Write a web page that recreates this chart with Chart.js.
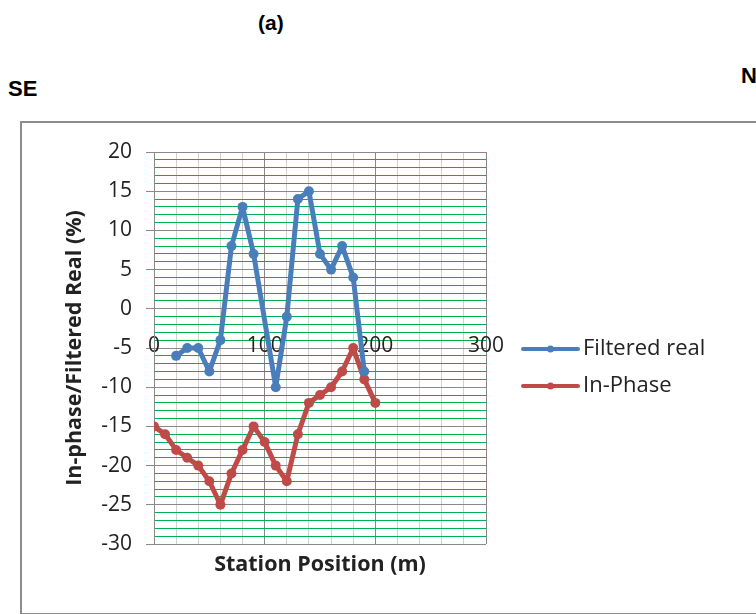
<!DOCTYPE html>
<html>
<head>
<meta charset="utf-8">
<script src="https://cdn.jsdelivr.net/npm/chart.js@4.4.1/dist/chart.umd.min.js"></script>
<style>
  html, body { margin: 0; padding: 0; background: #fff; width: 756px; height: 614px; overflow: hidden; }
  #wrap { position: relative; width: 756px; height: 614px; }
  #frame { position: absolute; left: 20px; top: 121px; width: 760px; height: 490px; border: 2px solid #8c8c8c; }
  #c { position: absolute; left: 0; top: 0; }
  .lbl { position: absolute; font-family: "Liberation Sans", Arial, sans-serif; font-weight: bold; color: #000; line-height: 1; }
</style>
</head>
<body>
<div id="wrap">
  <div id="frame"></div>
  <div class="lbl" style="left:258px;top:12px;font-size:21px">(a)</div>
  <div class="lbl" style="left:8px;top:78px;font-size:22px">SE</div>
  <div class="lbl" style="left:741px;top:65px;font-size:22px">N</div>
  <canvas id="c" width="756" height="614"></canvas>
</div>
<script>
// Station positions (m) and readings (%) for each profile
const realStations = [20, 30, 40, 50, 60, 70, 80, 90, 110, 120, 130, 140, 150, 160, 170, 180, 190];
const filteredReal = [-6, -5, -5, -8, -4, 8, 13, 7, -10, -1, 14, 15, 7, 5, 8, 4, -8];

const phaseStations = [0, 10, 20, 30, 40, 50, 60, 70, 80, 90, 100, 110, 120, 130, 140, 150, 160, 170, 180, 190, 200];
const inPhase = [-15, -16, -18, -19, -20, -22, -25, -21, -18, -15, -17, -20, -22, -16, -12, -11, -10, -8, -5, -9, -12];

const seriesNames = ['Filtered real', 'In-Phase'];

// Axis ranges and labelled tick steps
const xRange = [0, 300];
const xLabelStep = 100;
const yRange = [-30, 20];
const yLabelStep = 5;

const toPoints = (xs, ys) => xs.map((x, i) => ({ x: x, y: ys[i] }));

const BLUE = '#4a7ebb';
const RED = '#be4b48';
const labelFont = { family: '"Open Sans", sans-serif', size: 21 };
const legendFont = { family: '"Open Sans", sans-serif', size: 22 };
const titleFont = { family: '"Open Sans", sans-serif', size: 21.5, weight: 'bold' };

// Legend drawn at the right of the plot area
const sideLegend = {
  id: 'sideLegend',
  afterDraw(chart) {
    const ctx = chart.ctx;
    const area = chart.chartArea;
    const x0 = area.right + 37;
    chart.data.datasets.forEach((ds, i) => {
      const y = 349 + i * 37;
      ctx.save();
      ctx.strokeStyle = ds.borderColor;
      ctx.lineWidth = 4;
      ctx.lineCap = 'round';
      ctx.beginPath();
      ctx.moveTo(x0, y);
      ctx.lineTo(x0 + 55, y);
      ctx.stroke();
      ctx.fillStyle = ds.borderColor;
      ctx.beginPath();
      ctx.arc(x0 + 27.5, y, 3.5, 0, Math.PI * 2);
      ctx.fill();
      ctx.fillStyle = '#222';
      ctx.font = legendFont.size + 'px ' + legendFont.family;
      ctx.textBaseline = 'middle';
      ctx.textAlign = 'left';
      ctx.fillText(ds.label, x0 + 60, y);
      ctx.restore();
    });
  }
};

const lineStyle = color => ({
  borderColor: color,
  backgroundColor: color,
  pointBackgroundColor: color,
  pointBorderColor: color,
  borderWidth: 5,
  borderJoinStyle: 'round',
  borderCapStyle: 'round',
  pointRadius: 5,
  pointBorderWidth: 0,
  tension: 0
});

new Chart(document.getElementById('c'), {
  type: 'line',
  data: {
    datasets: [
      Object.assign({ label: seriesNames[0], data: toPoints(realStations, filteredReal) }, lineStyle(BLUE)),
      Object.assign({ label: seriesNames[1], data: toPoints(phaseStations, inPhase) }, lineStyle(RED))
    ]
  },
  options: {
    responsive: false,
    animation: false,
    layout: { padding: { left: 0, right: 270, top: 152, bottom: 36.1 } },
    plugins: { legend: { display: false }, tooltip: { enabled: false } },
    scales: {
      x: {
        type: 'linear',
        position: { y: -3 },
        min: xRange[0],
        max: xRange[1],
        ticks: {
          stepSize: 20,
          autoSkip: false,
          maxRotation: 0,
          padding: 1,
          color: '#222',
          font: labelFont,
          callback: v => (Math.round(v) % xLabelStep === 0 ? String(Math.round(v)) : '')
        },
        grid: {
          drawTicks: false,
          lineWidth: 1,
          color: c => (Math.round(c.tick.value) % xLabelStep === 0 ? '#878787' : '#cfcfcf')
        },
        border: { display: false }
      },
      x2: {
        type: 'linear',
        position: 'bottom',
        min: xRange[0],
        max: xRange[1],
        ticks: { display: false },
        grid: { display: false, drawTicks: false },
        border: { display: false },
        title: { display: true, text: 'Station Position (m)', color: '#222', font: titleFont, padding: 0 },
        afterFit: s => { s.height = 33.9; }
      },
      y: {
        type: 'linear',
        position: 'left',
        min: yRange[0],
        max: yRange[1],
        ticks: {
          stepSize: 1,
          autoSkip: false,
          padding: 14,
          color: '#222',
          font: labelFont,
          callback: v => (Math.round(v) % yLabelStep === 0 ? String(Math.round(v)) : '')
        },
        grid: {
          lineWidth: 1,
          tickLength: 8,
          color: c => (Math.round(c.tick.value) % yLabelStep === 0 ? '#898989' : '#00b050'),
          tickColor: c => (Math.round(c.tick.value) % yLabelStep === 0 ? '#898989' : 'rgba(0,0,0,0)')
        },
        border: { color: '#898989' },
        title: { display: true, text: 'In-phase/Filtered Real (%)', color: '#222', font: titleFont, padding: { top: 62.1, bottom: 0 } },
        afterFit: s => { s.width = 154; }
      }
    }
  },
  plugins: [sideLegend]
});
</script>
</body>
</html>
